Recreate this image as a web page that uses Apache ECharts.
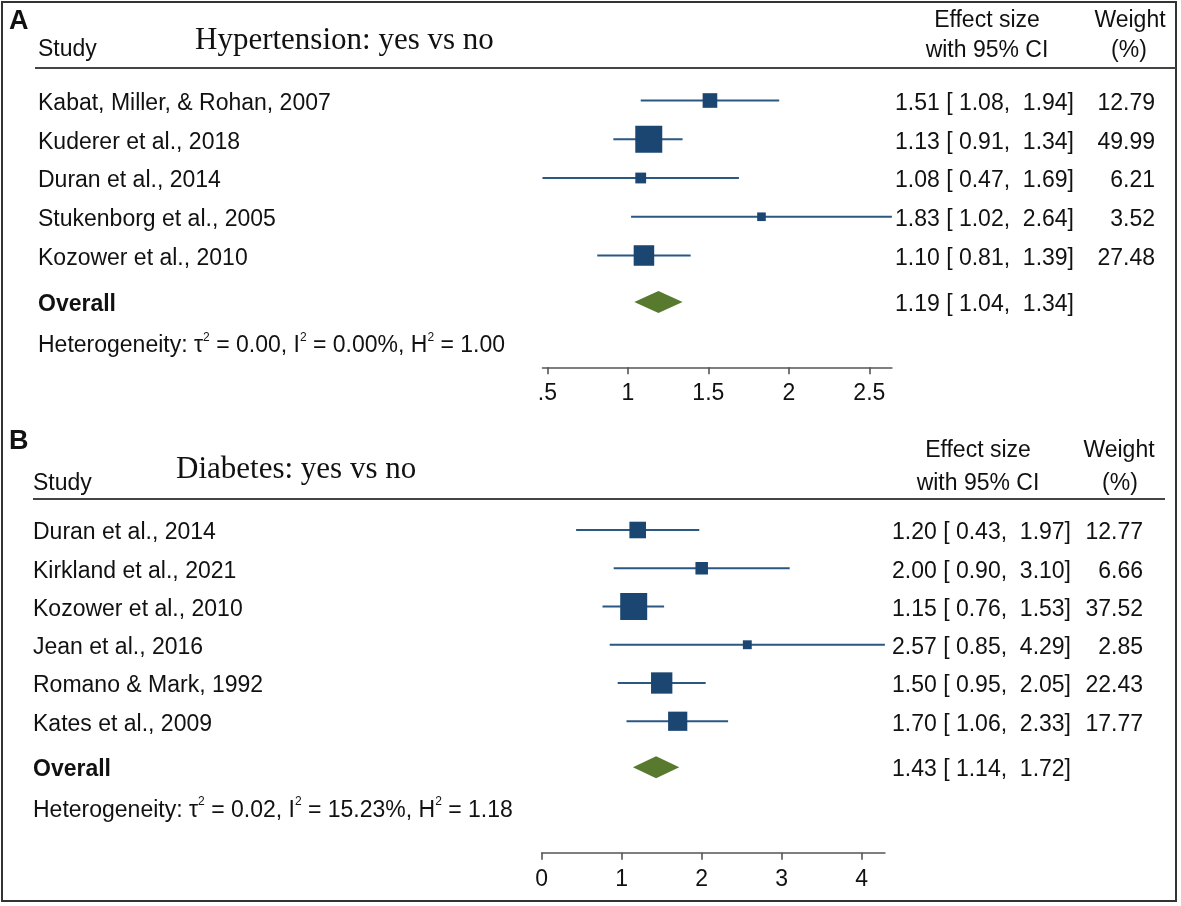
<!DOCTYPE html>
<html>
<head>
<meta charset="utf-8">
<script src="https://cdn.jsdelivr.net/npm/echarts@6/dist/echarts.min.js"></script>
<style>
html,body{margin:0;padding:0;background:#fff;}
#chart{width:1181px;height:906px;}
</style>
</head>
<body>
<div id="chart"></div>
<script>
// ---------- Panel A: Hypertension ----------
const studiesA = ['Kabat, Miller, & Rohan, 2007', 'Kuderer et al., 2018', 'Duran et al., 2014', 'Stukenborg et al., 2005', 'Kozower et al., 2010'];
const esA = [1.51, 1.13, 1.08, 1.83, 1.10];
const loA = [1.08, 0.91, 0.47, 1.02, 0.81];
const hiA = [1.94, 1.34, 1.69, 2.64, 1.39];
const weightA = [12.79, 49.99, 6.21, 3.52, 27.48];
const overallA = [1.19, 1.04, 1.34];
const hetA = ['0.00', '0.00%', '1.00']; // tau2, I2, H2
const ticksA = [0.5, 1, 1.5, 2, 2.5];
const tickLabelsA = ['.5', '1', '1.5', '2', '2.5'];
const titleA = 'Hypertension: yes vs no';

// ---------- Panel B: Diabetes ----------
const studiesB = ['Duran et al., 2014', 'Kirkland et al., 2021', 'Kozower et al., 2010', 'Jean et al., 2016', 'Romano & Mark, 1992', 'Kates et al., 2009'];
const esB = [1.20, 2.00, 1.15, 2.57, 1.50, 1.70];
const loB = [0.43, 0.90, 0.76, 0.85, 0.95, 1.06];
const hiB = [1.97, 3.10, 1.53, 4.29, 2.05, 2.33];
const weightB = [12.77, 6.66, 37.52, 2.85, 22.43, 17.77];
const overallB = [1.43, 1.14, 1.72];
const hetB = ['0.02', '15.23%', '1.18'];
const ticksB = [0, 1, 2, 3, 4];
const tickLabelsB = ['0', '1', '2', '3', '4'];
const titleB = 'Diabetes: yes vs no';

const SANS = '"Liberation Sans", Arial, sans-serif';
const SERIF = '"Liberation Serif", "Times New Roman", serif';
const TXT = '#111';
const SQ = '#1b4672';
const CI = '#2b5783';
const DIA = '#587a2f';
const FS = 23;
const DY = 3; // text vertical nudge

function fmtES(e, l, h) {
  return e.toFixed(2) + ' [ ' + l.toFixed(2) + ',  ' + h.toFixed(2) + ']';
}
function hetText(h) {
  return 'Heterogeneity: τ{s|2} = ' + h[0] + ', I{s|2} = ' + h[1] + ', H{s|2} = ' + h[2];
}
const hetRich = { s: { fontSize: 12, fontFamily: SANS, fill: TXT, verticalAlign: 'top', lineHeight: 12 } };

// layout per panel (pixels)
const P = [
  { gridLeft: 542.5, gridWidth: 349.4, row0: 100.5, rowH: 38.75, axisY: 367.3, nameX: 38, effRight: 1074, wRight: 1155,
    studies: studiesA, es: esA, lo: loA, hi: hiA, w: weightA, overall: overallA, het: hetA, ticks: ticksA, tickLabels: tickLabelsA },
  { gridLeft: 541.7, gridWidth: 343.2, row0: 530, rowH: 38.25, axisY: 852.7, nameX: 33, effRight: 1071, wRight: 1143,
    studies: studiesB, es: esB, lo: loB, hi: hiB, w: weightB, overall: overallB, het: hetB, ticks: ticksB, tickLabels: tickLabelsB }
];

const grids = [], xAxes = [], yAxes = [], series = [];
P.forEach((p, gi) => {
  const top = p.row0 - p.rowH;
  const height = p.axisY - top;
  grids.push({ left: p.gridLeft, top: top, width: p.gridWidth, height: height, outerBoundsMode: 'none', containLabel: false });
  const xmin = Math.min(Math.min(...p.lo), p.ticks[0]);
  const xmax = Math.max(Math.max(...p.hi), p.ticks[p.ticks.length - 1]);
  xAxes.push({
    gridIndex: gi, type: 'value', min: xmin, max: xmax,
    splitLine: { show: false },
    axisLine: { show: true, onZero: false, lineStyle: { color: '#555', width: 1.6 } },
    axisTick: { show: true, customValues: p.ticks, length: 7, lineStyle: { color: '#555', width: 1.6 } },
    axisLabel: {
      show: true, customValues: p.ticks, margin: 15, fontSize: 23, fontFamily: SANS, color: TXT,
      hideOverlap: false, showMinLabel: true, showMaxLabel: true,
      formatter: v => { const k = p.ticks.findIndex(t => Math.abs(t - v) < 1e-9); return k >= 0 ? p.tickLabels[k] : ''; }
    }
  });
  yAxes.push({ gridIndex: gi, type: 'value', inverse: true, min: -1, max: -1 + height / p.rowH, show: false });

  const maxW = Math.max(...p.w);
  series.push({
    type: 'custom', xAxisIndex: gi, yAxisIndex: gi, clip: false,
    data: p.studies.map((s, i) => [i, p.es[i], p.lo[i], p.hi[i], p.w[i]]),
    encode: { x: [1, 2, 3], y: 0 },
    renderItem: (params, api) => {
      const i = api.value(0), e = api.value(1), l = api.value(2), h = api.value(3), wt = api.value(4);
      const c = api.coord([e, i]), cl = api.coord([l, i]), ch = api.coord([h, i]);
      const s = 2 + 25 * Math.sqrt(wt / maxW);
      return {
        type: 'group',
        children: [
          { type: 'line', shape: { x1: cl[0], y1: cl[1], x2: ch[0], y2: ch[1] }, style: { stroke: CI, lineWidth: 2 } },
          { type: 'rect', shape: { x: c[0] - s / 2, y: c[1] - s / 2, width: s, height: s }, style: { fill: SQ } },
          { type: 'text', style: { text: p.studies[i], x: p.nameX, y: c[1] + DY, fill: TXT, fontSize: FS, fontFamily: SANS, align: 'left', verticalAlign: 'middle' } },
          { type: 'text', style: { text: fmtES(e, l, h), x: p.effRight, y: c[1] + DY, fill: TXT, fontSize: FS, fontFamily: SANS, align: 'right', verticalAlign: 'middle' } },
          { type: 'text', style: { text: wt.toFixed(2), x: p.wRight, y: c[1] + DY, fill: TXT, fontSize: FS, fontFamily: SANS, align: 'right', verticalAlign: 'middle' } }
        ]
      };
    }
  });
  const n = p.studies.length;
  series.push({
    type: 'custom', xAxisIndex: gi, yAxisIndex: gi, clip: false,
    data: [[n + 0.2, p.overall[0], p.overall[1], p.overall[2]]],
    encode: { x: [1, 2, 3], y: 0 },
    renderItem: (params, api) => {
      const r = api.value(0), e = api.value(1), l = api.value(2), h = api.value(3);
      const c = api.coord([e, r]), cl = api.coord([l, r]), ch = api.coord([h, r]);
      const hh = 11;
      const hy = api.coord([e, n + 1.25])[1];
      return {
        type: 'group',
        children: [
          { type: 'polygon', shape: { points: [[cl[0], c[1]], [c[0], c[1] - hh], [ch[0], c[1]], [c[0], c[1] + hh]] }, style: { fill: DIA } },
          { type: 'text', style: { text: 'Overall', x: p.nameX, y: c[1] + DY, fill: TXT, fontSize: FS, fontWeight: 'bold', fontFamily: SANS, align: 'left', verticalAlign: 'middle' } },
          { type: 'text', style: { text: fmtES(e, l, h), x: p.effRight, y: c[1] + DY, fill: TXT, fontSize: FS, fontFamily: SANS, align: 'right', verticalAlign: 'middle' } },
          { type: 'text', style: { text: hetText(p.het), rich: hetRich, x: p.nameX, y: hy + DY, lineHeight: 29, fill: TXT, fontSize: FS, fontFamily: SANS, align: 'left', verticalAlign: 'middle' } }
        ]
      };
    }
  });
});

function txt(text, x, y, opts) {
  return { type: 'text', x: x, y: y + DY, style: Object.assign({ text: text, fill: TXT, fontSize: FS, fontFamily: SANS, align: 'left', verticalAlign: 'middle' }, opts || {}) };
}

const graphic = [
  { type: 'rect', shape: { x: 2, y: 2, width: 1174, height: 899 }, style: { fill: 'none', stroke: '#333', lineWidth: 2 } },
  // Panel A header
  txt('A', 9, 19, { fontSize: 27, fontWeight: 'bold' }),
  txt('Study', 38, 47),
  txt(titleA, 195, 38, { fontFamily: SERIF, fontSize: 31 }),
  txt('Effect size', 987, 18, { align: 'center' }),
  txt('with 95% CI', 987, 48, { align: 'center' }),
  txt('Weight', 1130, 18, { align: 'center' }),
  txt('(%)', 1129, 48, { align: 'center' }),
  { type: 'line', shape: { x1: 35, y1: 68, x2: 1176, y2: 68 }, style: { stroke: '#444', lineWidth: 2 } },
  // Panel B header
  txt('B', 9, 439, { fontSize: 27, fontWeight: 'bold' }),
  txt('Study', 33, 481),
  txt(titleB, 176, 467, { fontFamily: SERIF, fontSize: 31 }),
  txt('Effect size', 978, 448, { align: 'center' }),
  txt('with 95% CI', 978, 481, { align: 'center' }),
  txt('Weight', 1119, 448, { align: 'center' }),
  txt('(%)', 1120, 481, { align: 'center' }),
  { type: 'line', shape: { x1: 33, y1: 499, x2: 1165, y2: 499 }, style: { stroke: '#444', lineWidth: 2 } }
];

const chart = echarts.init(document.getElementById('chart'), null, { renderer: 'canvas' });
chart.setOption({
  backgroundColor: '#fff',
  animation: false,
  grid: grids,
  xAxis: xAxes,
  yAxis: yAxes,
  series: series,
  graphic: graphic
});
</script>
</body>
</html>
